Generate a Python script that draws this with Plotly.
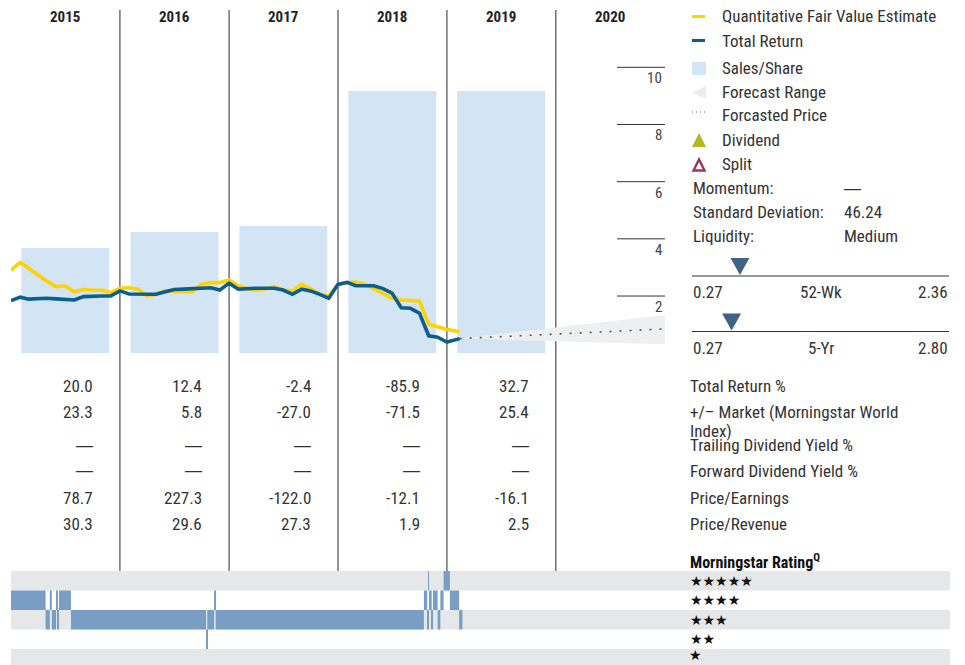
import plotly.graph_objects as go
import pandas as pd

# ---------------- data ----------------
years = [2015, 2016, 2017, 2018, 2019, 2020]
sales_years = [2015, 2016, 2017, 2018, 2019]
sales_per_share = [3.68, 4.24, 4.45, 9.17, 9.17]

price_months = list(pd.date_range("2015-01-01", periods=49, freq="MS").strftime("%Y-%m-%d")) + ["2019-02-13"]
fair_value = [2.91, 3.18, 2.97, 2.74, 2.52, 2.33, 2.35, 2.15, 2.23, 2.21,
              2.20, 2.12, 2.27, 2.29, 2.24, 2.00, 2.06, 2.18, 2.16, 2.15,
              2.15, 2.41, 2.47, 2.47, 2.56, 2.35, 2.26, 2.21, 2.24, 2.33,
              2.21, 2.18, 2.41, 2.26, 2.06, 2.00, 2.39, 2.46, 2.49, 2.42,
              2.26, 2.08, 1.92, 1.86, 1.84, 1.83, 1.01, 0.91, 0.83, 0.75]
total_return = [1.84, 1.96, 1.89, 1.91, 1.92, 1.90, 1.88, 1.86, 1.98, 2.00,
                2.00, 2.00, 2.18, 2.07, 2.06, 2.06, 2.06, 2.15, 2.23, 2.24,
                2.26, 2.27, 2.29, 2.21, 2.45, 2.24, 2.26, 2.27, 2.27, 2.27,
                2.21, 2.06, 2.24, 2.18, 2.06, 1.92, 2.41, 2.48, 2.36, 2.36,
                2.36, 2.26, 2.10, 1.59, 1.57, 1.40, 0.61, 0.56, 0.39, 0.51]

forecast_dates = ["2019-02-13", "2021-01-01"]
forecast_price = [0.51, 0.85]
forecast_high = [0.51, 1.34]
forecast_low = [0.51, 0.31]

axis_ticks = [2, 4, 6, 8, 10]

row_labels = ["Total Return %", "+/– Market (Morningstar World", "Trailing Dividend Yield %",
              "Forward Dividend Yield %", "Price/Earnings", "Price/Revenue"]
total_return_pct = ["20.0", "12.4", "-2.4", "-85.9", "32.7"]
vs_market = ["23.3", "5.8", "-27.0", "-71.5", "25.4"]
trailing_yield = ["—", "—", "—", "—", "—"]
forward_yield = ["—", "—", "—", "—", "—"]
price_earnings = ["78.7", "227.3", "-122.0", "-12.1", "-16.1"]
price_revenue = ["30.3", "29.6", "27.3", "1.9", "2.5"]

rating_start = ["2015-01-01", "2015-04-27", "2015-05-11", "2015-05-18", "2015-06-01", "2015-06-05",
                "2015-06-11", "2015-07-21", "2016-10-16", "2016-10-20", "2016-11-12", "2016-11-17",
                "2018-10-16", "2018-10-27", "2018-10-30", "2018-11-02", "2018-11-11", "2018-11-15",
                "2018-12-01", "2018-12-10", "2018-12-21", "2019-01-11", "2019-02-11"]
rating_end = ["2015-04-27", "2015-05-11", "2015-05-18", "2015-06-01", "2015-06-05", "2015-06-11",
              "2015-07-21", "2016-10-16", "2016-10-20", "2016-11-12", "2016-11-17", "2018-10-16",
              "2018-10-27", "2018-10-30", "2018-11-02", "2018-11-11", "2018-11-15", "2018-12-01",
              "2018-12-10", "2018-12-21", "2019-01-11", "2019-02-11", "2019-02-22"]
rating_stars = [4, 3, 4, 3, 4, 3, 4, 3, 2, 3, 4, 3, 4, 3, 5, 4, 3, 4, 3, 4, 5, 4, 3]

momentum = "—"
std_dev = "46.24"
liquidity = "Medium"
range_52wk = [0.27, 2.36]
range_5yr = [0.27, 2.80]
last_price = 0.66

# ---------------- layout helpers ----------------
W, H = 965, 665
FONT = "Liberation Sans Narrow, Roboto Condensed, DejaVu Sans Condensed, Arial Narrow, sans-serif"
DASH_FONT = "Liberation Sans, Arial, sans-serif"
TXT = "#333333"
YELLOW = "#FFD200"
BLUE = "#0B5E8E"


def fx(p):
    return p / W


def fy(p):
    return 1 - p / H


def path_px(points):
    s = "M " + " L ".join(f"{fx(x)},{fy(y)}" for x, y in points) + " Z"
    return s


x0_date = pd.Timestamp("2015-01-01")
x1_date = pd.Timestamp("2021-01-01")
days_per_px = (x1_date - x0_date).days / (665 - 11)
x2_end = x0_date + pd.Timedelta(days=(950 - 11) * days_per_px)

fig = go.Figure()

# Sales/share bars
year_ms = 365.25 * 86400000
fig.add_trace(go.Bar(
    x=[f"{y}-07-02" for y in sales_years], y=sales_per_share,
    width=[0.807 * year_ms] * len(sales_years),
    marker=dict(color="#D3E4F4", line_width=0), hoverinfo="skip"))

# forecast range
fig.add_trace(go.Scatter(
    x=forecast_dates + forecast_dates[::-1], y=forecast_high + forecast_low[::-1],
    fill="toself", fillcolor="#EEEFF1", mode="lines", line=dict(width=0), hoverinfo="skip"))
fig.add_trace(go.Scatter(
    x=forecast_dates, y=forecast_price, mode="lines",
    line=dict(color="#555555", width=1.6, dash="2px,8px"), hoverinfo="skip"))

# lines
fig.add_trace(go.Scatter(x=price_months, y=fair_value, mode="lines",
                         line=dict(color=YELLOW, width=3.6), hoverinfo="skip"))
fig.add_trace(go.Scatter(x=price_months, y=total_return, mode="lines",
                         line=dict(color=BLUE, width=3.6), hoverinfo="skip"))

# rating bars
durations = [(pd.Timestamp(e) - pd.Timestamp(s)).total_seconds() * 1000 for s, e in zip(rating_start, rating_end)]
fig.add_trace(go.Bar(
    orientation="h", y=rating_stars, x=durations, base=rating_start, width=1,
    marker=dict(color="#789EC5", line_width=0), xaxis="x2", yaxis="y2", hoverinfo="skip"))

shapes = []
ann = []

# gray rating bands
for s in [5, 3, 1]:
    shapes.append(dict(type="rect", xref="paper", yref="y2", x0=fx(11), x1=fx(950),
                       y0=s - 0.5, y1=s + 0.5, fillcolor="#E6E7E9", line_width=0, layer="below"))

# year separators
for y in years[1:]:
    shapes.append(dict(type="line", xref="x", yref="paper", x0=f"{y}-01-01", x1=f"{y}-01-01",
                       y0=fy(571), y1=fy(10), line=dict(color="#666666", width=1.4), layer="below"))

# year labels
for y in years:
    ann.append(dict(xref="x", yref="paper", x=f"{y}-07-02", y=fy(17), text=f"<b>{y}</b>",
                    showarrow=False, xanchor="center", yanchor="middle",
                    font=dict(family=FONT, size=15, color="#222222")))

# right axis ticks
for t in axis_ticks:
    shapes.append(dict(type="line", xref="paper", yref="y", x0=fx(617), x1=fx(665), y0=t, y1=t,
                       line=dict(color="#333333", width=1)))
    ann.append(dict(xref="paper", yref="y", x=fx(664), y=t, yshift=-11, text=str(t), showarrow=False,
                    xanchor="right", yanchor="middle", font=dict(family=FONT, size=15, color="#444444")))

# table
table_vals = [total_return_pct, vs_market, trailing_yield, forward_yield, price_earnings, price_revenue]
row_y = [386, 412, 445, 471, 497.5, 524]
for vals, ry in zip(table_vals, row_y):
    for y, v in zip(sales_years, vals):
        fam = DASH_FONT if v == "—" else FONT
        ann.append(dict(xref="x", yref="paper", x=f"{y + 1}-01-01", xshift=-25, y=fy(ry), text=v,
                        showarrow=False, xanchor="right", yanchor="middle",
                        font=dict(family=fam, size=17, color=TXT)))
for lab, ry in zip(row_labels, row_y):
    ann.append(dict(xref="paper", yref="paper", x=fx(688), y=fy(ry), text=lab, showarrow=False,
                    xanchor="left", yanchor="middle", font=dict(family=FONT, size=17, color=TXT)))
ann.append(dict(xref="paper", yref="paper", x=fx(688), y=fy(431), text="Index)", showarrow=False,
                xanchor="left", yanchor="middle", font=dict(family=FONT, size=17, color=TXT)))

# rating header + stars
ann.append(dict(xref="paper", yref="paper", x=fx(688), y=fy(561), text="<b>Morningstar Rating<sup>Q</sup></b>",
                showarrow=False, xanchor="left", yanchor="middle", font=dict(family=FONT, size=16, color="#111111")))
for s in [5, 4, 3, 2]:
    ann.append(dict(xref="paper", yref="y2", x=fx(688), y=s, text="★" * s, showarrow=False,
                    xanchor="left", yanchor="middle", font=dict(family="DejaVu Sans", size=14, color="#111111")))
ann.append(dict(xref="paper", yref="paper", x=fx(688), y=fy(664), text="★" * 1, showarrow=False,
                xanchor="left", yanchor="bottom", borderpad=0,
                font=dict(family="DejaVu Sans", size=14, color="#111111")))

# legend
leg_y = [16.5, 40.5, 68, 92, 115, 140, 164]
leg_text = ["Quantitative Fair Value Estimate", "Total Return", "Sales/Share", "Forecast Range",
            "Forcasted Price", "Dividend", "Split"]
for t, ly in zip(leg_text, leg_y):
    ann.append(dict(xref="paper", yref="paper", x=fx(720), y=fy(ly), text=t, showarrow=False,
                    xanchor="left", yanchor="middle", font=dict(family=FONT, size=17, color=TXT)))
shapes.append(dict(type="line", xref="paper", yref="paper", x0=fx(692), x1=fx(705), y0=fy(16.5), y1=fy(16.5),
                   line=dict(color=YELLOW, width=3)))
shapes.append(dict(type="line", xref="paper", yref="paper", x0=fx(692), x1=fx(705), y0=fy(40.5), y1=fy(40.5),
                   line=dict(color=BLUE, width=3)))
shapes.append(dict(type="rect", xref="paper", yref="paper", x0=fx(692), x1=fx(706), y0=fy(75), y1=fy(62),
                   fillcolor="#D3E4F4", line_width=0))
shapes.append(dict(type="path", xref="paper", yref="paper", path=path_px([(706, 86), (692, 92.5), (706, 99)]),
                   fillcolor="#ECEDEF", line_width=0))
shapes.append(dict(type="line", xref="paper", yref="paper", x0=fx(692), x1=fx(706), y0=fy(112), y1=fy(112),
                   line=dict(color="#666666", width=1, dash="1px,3px")))
shapes.append(dict(type="path", xref="paper", yref="paper", path=path_px([(692, 147), (699, 133), (706, 147)]),
                   fillcolor="#B3B91F", line_width=0))
shapes.append(dict(type="path", xref="paper", yref="paper", path=path_px([(693.5, 170.5), (699, 159.5), (704.5, 170.5)]),
                   fillcolor="rgba(0,0,0,0)", line=dict(color="#A3325E", width=2.4)))

# stats
for lab, val, ly in [("Momentum:", momentum, 188), ("Standard Deviation:", std_dev, 212), ("Liquidity:", liquidity, 236)]:
    ann.append(dict(xref="paper", yref="paper", x=fx(691), y=fy(ly), text=lab, showarrow=False,
                    xanchor="left", yanchor="middle", font=dict(family=FONT, size=17, color=TXT)))
    fam = DASH_FONT if val == "—" else FONT
    ann.append(dict(xref="paper", yref="paper", x=fx(842), y=fy(ly), text=val, showarrow=False,
                    xanchor="left", yanchor="middle", font=dict(family=fam, size=17, color=TXT)))

# price range gauges
for rng, name, line_y in [(range_52wk, "52-Wk", 276), (range_5yr, "5-Yr", 331.5)]:
    lo, hi = rng
    px_ = 692 + (last_price - lo) / (hi - lo) * (949 - 692)
    shapes.append(dict(type="line", xref="paper", yref="paper", x0=fx(692), x1=fx(949), y0=fy(line_y), y1=fy(line_y),
                       line=dict(color="#333333", width=1)))
    shapes.append(dict(type="path", xref="paper", yref="paper",
                       path=path_px([(px_ - 9.5, line_y - 18), (px_ + 9.5, line_y - 18), (px_, line_y - 1)]),
                       fillcolor="#3E6385", line_width=0))
    ty = line_y + 16
    ann.append(dict(xref="paper", yref="paper", x=fx(691), y=fy(ty), text=f"{lo:.2f}", showarrow=False,
                    xanchor="left", yanchor="middle", font=dict(family=FONT, size=17, color=TXT)))
    ann.append(dict(xref="paper", yref="paper", x=fx(821), y=fy(ty), text=name, showarrow=False,
                    xanchor="center", yanchor="middle", font=dict(family=FONT, size=17, color=TXT)))
    ann.append(dict(xref="paper", yref="paper", x=fx(950), y=fy(ty), text=f"{hi:.2f}", showarrow=False,
                    xanchor="right", yanchor="middle", font=dict(family=FONT, size=17, color=TXT)))

fig.update_layout(
    width=W, height=H, margin=dict(l=0, r=0, t=0, b=0),
    paper_bgcolor="white", plot_bgcolor="rgba(0,0,0,0)", showlegend=False,
    barmode="overlay",
    xaxis=dict(type="date", range=[x0_date, x1_date], domain=[fx(11), fx(665)], visible=False, fixedrange=True),
    yaxis=dict(range=[0, (353.2 - 10) / 28.59], domain=[fy(353.2), fy(10)], visible=False, fixedrange=True),
    xaxis2=dict(type="date", range=[x0_date, x2_end], domain=[fx(11), fx(950)], visible=False,
                anchor="y2", fixedrange=True),
    yaxis2=dict(range=[5.5 - 94 / 19.5, 5.5], domain=[0, fy(571)], visible=False, anchor="x2", fixedrange=True),
    shapes=shapes, annotations=ann,
)

fig.write_html("out.html", config={"displayModeBar": False},
               post_script="document.body.style.margin='0';document.body.style.padding='0';document.body.style.overflow='hidden';")
